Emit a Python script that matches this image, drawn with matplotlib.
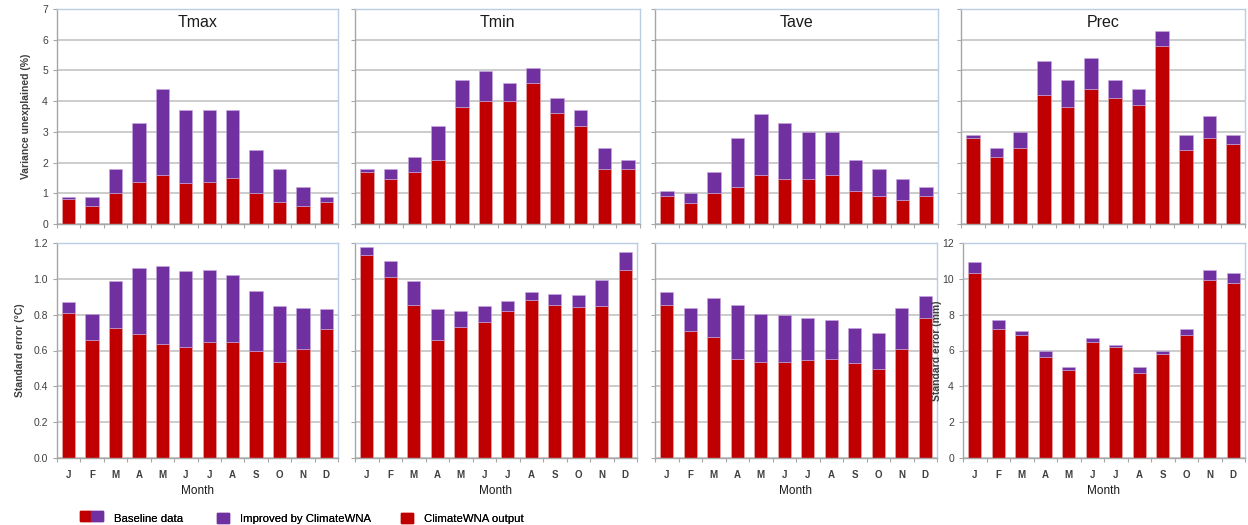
import matplotlib
matplotlib.use('Agg')
from matplotlib import pyplot as plt
from matplotlib.patches import Patch, Rectangle
import numpy as np

months = ['J', 'F', 'M', 'A', 'M', 'J', 'J', 'A', 'S', 'O', 'N', 'D']
variables = ['Tmax', 'Tmin', 'Tave', 'Prec']

# variance unexplained (%): ClimateWNA output and baseline total
var_wna = {
    'Tmax': [0.80, 0.60, 1.00, 1.38, 1.60, 1.32, 1.38, 1.49, 1.00, 0.71, 0.60, 0.71],
    'Tmin': [1.69, 1.47, 1.69, 2.08, 3.81, 4.00, 4.00, 4.60, 3.61, 3.20, 1.79, 1.79],
    'Tave': [0.90, 0.69, 1.00, 1.19, 1.59, 1.48, 1.48, 1.59, 1.09, 0.90, 0.78, 0.90],
    'Prec': [2.79, 2.19, 2.47, 4.21, 3.81, 4.40, 4.09, 3.89, 5.81, 2.40, 2.80, 2.60],
}
var_base = {
    'Tmax': [0.89, 0.89, 1.79, 3.28, 4.39, 3.72, 3.72, 3.72, 2.40, 1.79, 1.20, 0.89],
    'Tmin': [1.79, 1.79, 2.19, 3.18, 4.70, 4.99, 4.59, 5.09, 4.10, 3.70, 2.49, 2.08],
    'Tave': [1.08, 1.00, 1.69, 2.80, 3.59, 3.29, 3.00, 3.00, 2.10, 1.80, 1.48, 1.19],
    'Prec': [2.89, 2.47, 2.98, 5.30, 4.70, 5.40, 4.70, 4.38, 6.30, 2.89, 3.51, 2.89],
}

# standard error (degC for temperature, mm for precipitation)
se_wna = {
    'Tmax': [0.808, 0.660, 0.728, 0.692, 0.639, 0.617, 0.649, 0.649, 0.598, 0.536, 0.611, 0.720],
    'Tmin': [1.133, 1.009, 0.856, 0.660, 0.729, 0.761, 0.822, 0.880, 0.856, 0.841, 0.850, 1.052],
    'Tave': [0.856, 0.710, 0.676, 0.554, 0.537, 0.537, 0.547, 0.554, 0.530, 0.498, 0.610, 0.779],
    'Prec': [10.32, 7.20, 6.87, 5.65, 4.90, 6.49, 6.17, 4.73, 5.82, 6.87, 9.96, 9.79],
}
se_base = {
    'Tmax': [0.868, 0.806, 0.990, 1.058, 1.073, 1.041, 1.050, 1.022, 0.930, 0.849, 0.838, 0.831],
    'Tmin': [1.180, 1.099, 0.987, 0.832, 0.821, 0.849, 0.879, 0.929, 0.918, 0.908, 0.996, 1.150],
    'Tave': [0.925, 0.839, 0.895, 0.852, 0.805, 0.796, 0.781, 0.773, 0.727, 0.700, 0.835, 0.903],
    'Prec': [10.94, 7.73, 7.11, 6.00, 5.10, 6.68, 6.32, 5.10, 6.00, 7.22, 10.49, 10.30],
}

RED = '#c00000'
PURPLE = '#7030a0'
GRID = '#c3c3c3'
FRAME = '#b9cde5'
TXT = '#404040'

W, H = 1248, 525
lefts_top = [57, 355, 655, 961]
rights_top = [338, 640, 938, 1245]
lefts_bot = [57, 355, 655, 963]
rights_bot = [338, 637, 937, 1245]


class SplitPatchHandler:
    """Legend key drawn as two side-by-side squares (red, purple)."""

    def legend_artist(self, legend, orig_handle, fontsize, handlebox):
        x0, y0 = handlebox.xdescent, handlebox.ydescent
        w, h = handlebox.width, handlebox.height
        tr = handlebox.get_transform()
        left = Rectangle((x0 - w, y0), w, h, color=RED, transform=tr)
        right = Rectangle((x0, y0), w, h, color=PURPLE, transform=tr)
        handlebox.add_artist(left)
        handlebox.add_artist(right)
        return right


def px_axes(fig, l, r, top, bottom):
    return fig.add_axes([l / W, 1 - bottom / H, (r - l) / W, (bottom - top) / H])


def style_axes(ax, ymax, step, show_y, show_x):
    x = np.arange(12)
    ax.set_xlim(-0.5, 11.5)
    ax.set_ylim(0, ymax)
    ax.set_yticks(np.arange(0, ymax + step / 2, step))
    ax.yaxis.grid(True, color=GRID, lw=1.2)
    ax.set_axisbelow(True)
    for side in ('top', 'right'):
        ax.spines[side].set_color(FRAME)
        ax.spines[side].set_linewidth(1.0)
    for side in ('left', 'bottom'):
        ax.spines[side].set_color('#a6a6a6')
        ax.spines[side].set_linewidth(1.0)
    # category boundary ticks on x, labels centred under bars
    ax.set_xticks(np.arange(-0.5, 12, 1))
    ax.set_xticklabels([])
    ax.set_xticks(x, minor=True)
    ax.tick_params(axis='x', which='major', direction='out', length=3, color='#a6a6a6')
    ax.tick_params(axis='x', which='minor', length=0, pad=9, labelsize=7, labelcolor=TXT)
    if show_x:
        ax.set_xticklabels(months, minor=True, fontweight='bold')
    else:
        ax.set_xticklabels([], minor=True)
    ax.tick_params(axis='y', direction='out', length=3, color='#a6a6a6',
                   labelsize=7.5, labelcolor=TXT)
    if not show_y:
        ax.set_yticklabels([])


def stacked(ax, wna, base):
    x = np.arange(12)
    wna = np.array(wna)
    base = np.array(base)
    ax.bar(x, wna, width=0.57, color=RED, edgecolor='#e8b0b0', linewidth=0.4)
    ax.bar(x, base - wna, bottom=wna, width=0.57, color=PURPLE,
           edgecolor='#c8a8e0', linewidth=0.4)


def add_key(fig, handle, label, x_px, **kw):
    leg = fig.legend([handle], [label], loc='lower left',
                     bbox_to_anchor=(x_px / W, -0.005), frameon=False,
                     fontsize=8.2, handlelength=1.0, handleheight=1.0,
                     handletextpad=1.0, borderaxespad=0, borderpad=0.3, **kw)
    fig.add_artist(leg)


def main():
    plt.rcParams['font.family'] = ['Liberation Sans', 'DejaVu Sans']
    fig = plt.figure(figsize=(W / 100, H / 100), dpi=100)

    for i, var in enumerate(variables):
        ax = px_axes(fig, lefts_top[i], rights_top[i], 9, 224)
        stacked(ax, var_wna[var], var_base[var])
        style_axes(ax, 7, 1, show_y=(i == 0), show_x=False)
        ax.text(0.5, 0.935, var, transform=ax.transAxes, ha='center', va='center',
                fontsize=11.5, color='#1a1a1a')
        if i == 0:
            ax.set_ylabel('Variance unexplained (%)', fontsize=7.5,
                          fontweight='bold', color=TXT, labelpad=8)

    for i, var in enumerate(variables):
        ax = px_axes(fig, lefts_bot[i], rights_bot[i], 243, 458)
        stacked(ax, se_wna[var], se_base[var])
        if var == 'Prec':
            style_axes(ax, 12, 2, show_y=True, show_x=True)
            ax.set_ylabel('Standard error (mm)', fontsize=7.5, fontweight='bold',
                          color=TXT)
            ax.yaxis.set_label_coords(-0.075, 0.5)
        else:
            style_axes(ax, 1.2, 0.2, show_y=(i == 0), show_x=True)
            if i == 0:
                ax.yaxis.set_major_formatter(matplotlib.ticker.FormatStrFormatter('%.1f'))
                ax.set_ylabel('Standard error (°C)', fontsize=7.5,
                              fontweight='bold', color=TXT, labelpad=6)
        ax.set_xlabel('Month', fontsize=8.5, color='#1a1a1a', labelpad=3)

    add_key(fig, Patch(color=PURPLE), 'Baseline data', 88,
            handler_map={Patch: SplitPatchHandler()})
    add_key(fig, Patch(color=PURPLE), 'Improved by ClimateWNA', 214)
    add_key(fig, Patch(color=RED), 'ClimateWNA output', 398)

    fig.savefig('out.png', dpi=100)


if __name__ == '__main__':
    main()
